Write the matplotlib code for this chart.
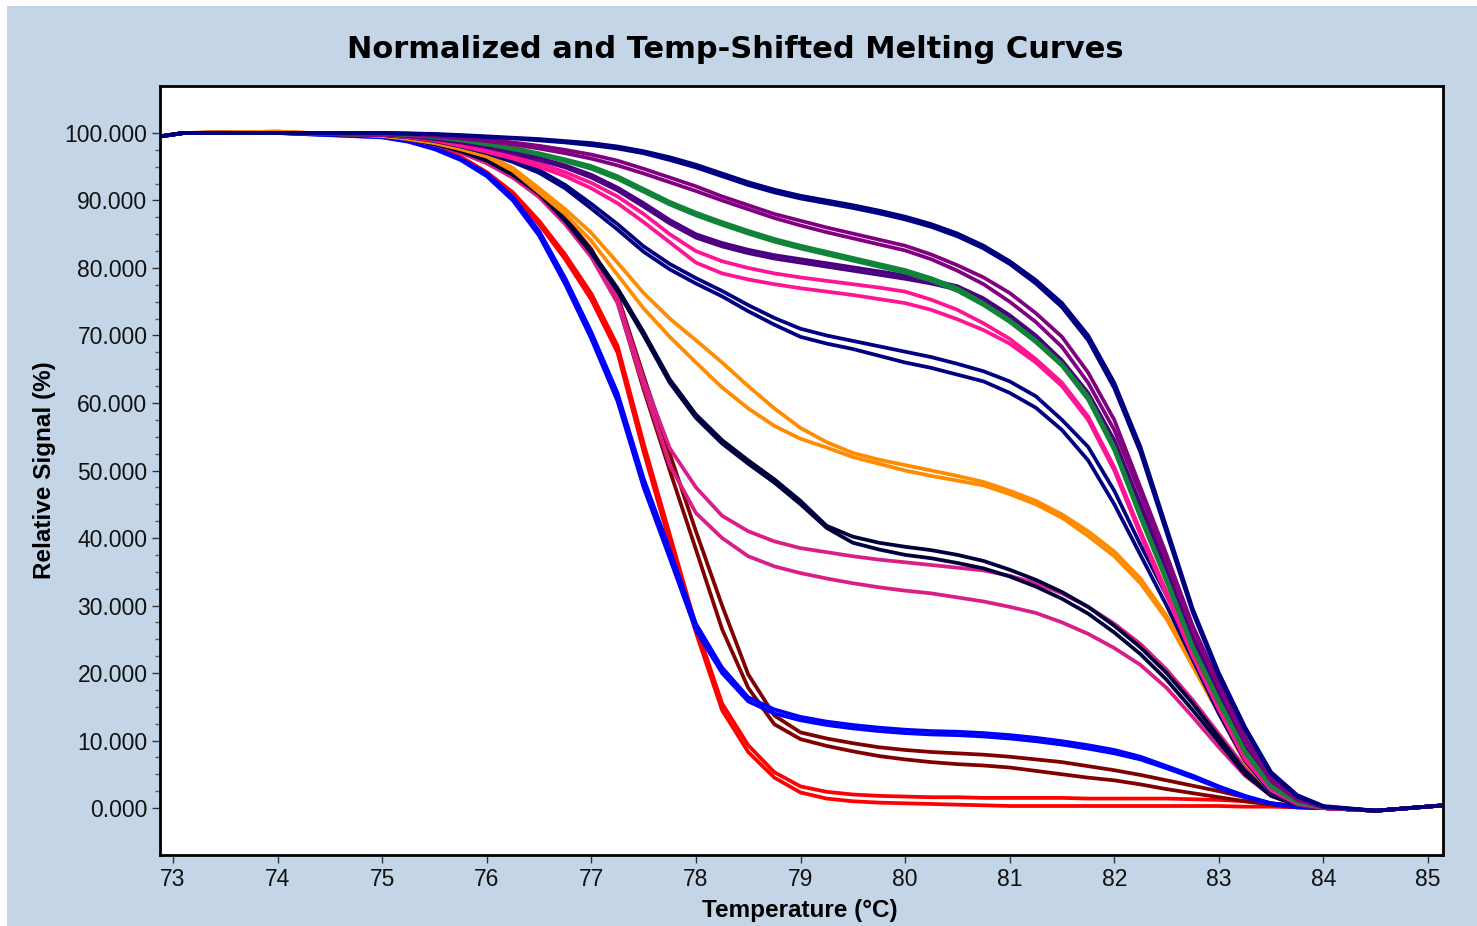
import matplotlib
matplotlib.use("Agg")
import matplotlib.pyplot as plt
from matplotlib.ticker import FixedLocator, FormatStrFormatter
from matplotlib.patches import Rectangle

# Temperature grid (deg C) shared by every melting curve
TEMPS = [72.88, 73.1, 74.0,
         75.0, 75.25, 75.5, 75.75, 76.0, 76.25, 76.5, 76.75, 77.0, 77.25,
         77.5, 77.75, 78.0, 78.25, 78.5, 78.75, 79.0, 79.25, 79.5, 79.75,
         80.0, 80.25, 80.5, 80.75, 81.0, 81.25, 81.5, 81.75, 82.0, 82.25,
         82.5, 82.75, 83.0, 83.25, 83.5, 83.75, 84.0,
         84.5, 85.15]

# Relative signal (%) for each well
red_a = [99.5, 100.0, 100.1,
         99.5, 99.0, 98.0, 96.5, 94.2, 91.2, 87.0, 82.0, 76.2, 68.5, 54.0, 40.5, 27.0, 15.5, 9.3, 5.3, 3.2, 2.4,
         2.0, 1.8, 1.7, 1.6, 1.6, 1.5, 1.5, 1.5, 1.5, 1.4, 1.4, 1.4, 1.4, 1.3, 1.2, 1.0, 0.7, 0.3, 0.0,
         -0.4, 0.4]
red_b = [99.5, 100.0, 100.2,
         99.5, 98.9, 97.9, 96.3, 94.0, 90.8, 86.5, 81.3, 75.3, 67.5, 52.8, 39.3, 26.0, 14.5, 8.3, 4.5, 2.3, 1.4,
         1.0, 0.8, 0.7, 0.6, 0.5, 0.4, 0.3, 0.3, 0.3, 0.3, 0.3, 0.3, 0.3, 0.3, 0.3, 0.2, 0.2, 0.1, 0.0,
         -0.4, 0.4]
darkred_a = [99.5, 100.0, 100.1,
             99.6, 99.2, 98.4, 97.3, 95.8, 93.7, 91.0, 87.5, 82.8, 76.0, 64.0, 52.5, 41.0, 30.0, 19.8, 13.7, 11.2, 10.3,
             9.6, 9.0, 8.6, 8.3, 8.1, 7.9, 7.6, 7.2, 6.8, 6.2, 5.6, 4.9, 4.1, 3.3, 2.5, 1.6, 0.7, 0.2, 0.0,
             -0.4, 0.4]
darkred_b = [99.5, 100.0, 100.1,
             99.6, 99.15, 98.3, 97.2, 95.6, 93.4, 90.6, 87.0, 82.2, 75.0, 62.0, 50.0, 38.3, 26.5, 17.8, 12.4, 10.2, 9.2,
             8.4, 7.7, 7.2, 6.8, 6.5, 6.3, 6.0, 5.5, 5.0, 4.5, 4.1, 3.5, 2.8, 2.2, 1.6, 1.0, 0.5, 0.1, 0.0,
             -0.4, 0.4]
blue_a = [99.5, 100.0, 100.0,
          99.4, 98.8, 97.8, 96.2, 94.0, 90.5, 85.5, 78.5, 70.5, 61.5, 48.8, 38.2, 27.3, 20.8, 16.4, 14.6, 13.5, 12.8,
          12.3, 11.9, 11.6, 11.4, 11.3, 11.1, 10.8, 10.4, 9.9, 9.3, 8.6, 7.6, 6.2, 4.8, 3.2, 1.8, 0.7, 0.2, 0.0,
          -0.4, 0.4]
blue_b = [99.5, 100.0, 100.0,
          99.35, 98.7, 97.6, 96.0, 93.6, 90.0, 84.8, 77.6, 69.5, 60.3, 47.5, 37.0, 26.3, 20.0, 15.8, 14.0, 13.0, 12.3,
          11.8, 11.4, 11.1, 10.9, 10.8, 10.6, 10.3, 9.9, 9.4, 8.8, 8.1, 7.2, 5.9, 4.5, 3.0, 1.6, 0.6, 0.1, 0.0,
          -0.4, 0.4]
magenta_a = [99.5, 100.0, 100.1,
             99.6, 99.1, 98.3, 97.1, 95.6, 93.5, 90.7, 86.8, 82.0, 75.5, 63.5, 53.3, 47.5, 43.3, 41.0, 39.5, 38.5, 37.9,
             37.3, 36.8, 36.4, 36.0, 35.6, 35.2, 34.4, 33.3, 31.8, 29.8, 27.3, 24.3, 20.5, 16.0, 11.0, 6.0, 2.3, 0.6, 0.0,
             -0.4, 0.4]
magenta_b = [99.5, 100.0, 100.1,
             99.6, 99.1, 98.3, 97.1, 95.5, 93.4, 90.5, 86.5, 81.6, 74.8, 62.5, 50.8, 43.7, 40.0, 37.3, 35.8, 34.8, 34.0,
             33.3, 32.7, 32.2, 31.8, 31.2, 30.6, 29.8, 28.9, 27.5, 25.8, 23.7, 21.2, 17.8, 13.5, 9.0, 4.8, 1.8, 0.4, 0.0,
             -0.4, 0.4]
black_a = [99.5, 100.0, 100.1,
           99.6, 99.1, 98.4, 97.4, 96.0, 94.0, 91.2, 87.3, 82.5, 77.0, 70.5, 63.5, 58.3, 54.5, 51.5, 48.7, 45.5, 41.8,
           40.2, 39.3, 38.7, 38.2, 37.5, 36.6, 35.3, 33.8, 32.0, 29.8, 27.0, 23.8, 20.0, 15.5, 10.5, 5.5, 2.0, 0.5, 0.0,
           -0.4, 0.4]
black_b = [99.5, 100.0, 100.1,
           99.6, 99.1, 98.35, 97.3, 95.9, 93.8, 91.0, 87.0, 82.2, 76.6, 70.0, 63.0, 57.8, 54.0, 51.0, 48.2, 45.0, 41.5,
           39.3, 38.3, 37.5, 37.0, 36.3, 35.5, 34.3, 32.8, 31.0, 28.8, 26.0, 22.8, 19.0, 14.5, 9.8, 5.0, 1.8, 0.4, 0.0,
           -0.4, 0.4]
orange_a = [99.5, 100.0, 100.2,
            99.6, 99.2, 98.6, 97.8, 96.8, 94.8, 91.8, 88.7, 85.2, 80.8, 76.3, 72.5, 69.3, 66.0, 62.5, 59.2, 56.3, 54.2,
            52.6, 51.6, 50.8, 50.0, 49.2, 48.3, 47.0, 45.5, 43.5, 41.0, 38.0, 34.0, 28.5, 21.5, 14.5, 7.0, 2.5, 0.6, 0.0,
            -0.4, 0.4]
orange_b = [99.5, 100.0, 100.2,
            99.55, 99.1, 98.5, 97.6, 96.5, 94.4, 91.2, 88.0, 84.0, 79.0, 74.0, 69.8, 66.0, 62.3, 59.2, 56.6, 54.7, 53.4,
            52.0, 51.0, 50.0, 49.2, 48.5, 47.8, 46.5, 45.0, 43.0, 40.3, 37.3, 33.3, 28.0, 21.0, 14.0, 6.7, 2.3, 0.5, 0.0,
            -0.4, 0.4]
navy2_a = [99.5, 100.0, 100.0,
           99.7, 99.4, 98.9, 98.1, 97.2, 96.0, 94.5, 92.3, 89.5, 86.5, 83.2, 80.6, 78.5, 76.6, 74.5, 72.6, 71.0, 70.0,
           69.2, 68.4, 67.6, 66.8, 65.8, 64.7, 63.2, 61.0, 57.5, 53.5, 47.0, 39.0, 31.5, 23.5, 15.0, 7.5, 2.5, 0.6, 0.0,
           -0.4, 0.4]
navy2_b = [99.5, 100.0, 100.0,
           99.7, 99.35, 98.8, 98.0, 97.0, 95.7, 94.1, 91.8, 88.8, 85.7, 82.4, 79.8, 77.7, 75.8, 73.6, 71.6, 69.8, 68.8,
           68.0, 67.0, 66.0, 65.2, 64.2, 63.2, 61.5, 59.3, 56.0, 51.5, 45.0, 37.5, 30.0, 22.0, 14.0, 7.0, 2.3, 0.5, 0.0,
           -0.4, 0.4]
pink_a = [99.5, 100.0, 100.0,
          99.8, 99.5, 99.0, 98.3, 97.5, 96.6, 95.5, 94.2, 92.6, 90.6, 88.0, 85.0, 82.5, 81.0, 80.0, 79.2, 78.6, 78.1,
          77.6, 77.1, 76.5, 75.3, 73.8, 71.8, 69.5, 66.5, 63.0, 58.0, 50.5, 41.0, 32.0, 23.0, 15.0, 7.5, 2.8, 0.7, 0.0,
          -0.4, 0.4]
pink_b = [99.5, 100.0, 100.0,
          99.75, 99.4, 98.9, 98.1, 97.2, 96.2, 95.0, 93.6, 91.8, 89.6, 86.8, 83.8, 80.8, 79.2, 78.3, 77.6, 77.0, 76.5,
          76.0, 75.4, 74.8, 73.8, 72.4, 70.8, 68.8, 66.0, 62.5, 57.5, 50.0, 40.5, 31.5, 22.5, 14.6, 7.2, 2.6, 0.6, 0.0,
          -0.4, 0.4]
indigo_a = [99.5, 100.0, 100.0,
            99.85, 99.6, 99.2, 98.7, 98.0, 97.2, 96.3, 95.2, 93.8, 91.9, 89.6, 87.1, 85.0, 83.7, 82.7, 81.9, 81.3, 80.7,
            80.1, 79.5, 78.9, 78.2, 77.3, 75.5, 73.0, 70.0, 66.3, 61.5, 54.5, 45.0, 35.5, 25.5, 17.0, 9.0, 3.5, 1.0, 0.1,
            -0.4, 0.4]
indigo_b = [99.5, 100.0, 100.0,
            99.8, 99.55, 99.1, 98.6, 97.9, 97.0, 96.0, 94.9, 93.4, 91.5, 89.1, 86.6, 84.5, 83.2, 82.2, 81.4, 80.8, 80.2,
            79.6, 79.0, 78.4, 77.7, 76.8, 75.0, 72.5, 69.5, 65.8, 61.0, 54.0, 44.5, 35.0, 25.0, 16.6, 8.7, 3.3, 0.9, 0.1,
            -0.4, 0.4]
green_a = [99.5, 100.0, 100.0,
           99.9, 99.75, 99.4, 99.0, 98.4, 97.8, 97.0, 96.1, 95.1, 93.6, 91.7, 89.8, 88.2, 86.8, 85.5, 84.3, 83.3, 82.4,
           81.5, 80.6, 79.7, 78.5, 77.0, 74.8, 72.3, 69.3, 65.8, 61.0, 53.5, 43.5, 34.0, 24.0, 16.0, 8.5, 3.3, 0.9, 0.1,
           -0.4, 0.4]
green_b = [99.5, 100.0, 100.0,
           99.9, 99.7, 99.35, 98.9, 98.3, 97.6, 96.8, 95.8, 94.7, 93.2, 91.3, 89.4, 87.8, 86.4, 85.1, 83.9, 82.9, 82.0,
           81.1, 80.2, 79.3, 78.1, 76.6, 74.5, 72.0, 69.0, 65.5, 60.5, 53.0, 43.0, 33.5, 23.6, 15.6, 8.2, 3.1, 0.8, 0.1,
           -0.4, 0.4]
purple_a = [99.5, 100.0, 100.0,
            99.95, 99.85, 99.6, 99.3, 99.0, 98.6, 98.1, 97.5, 96.8, 95.9, 94.7, 93.4, 92.1, 90.6, 89.3, 88.0, 87.0, 86.0,
            85.1, 84.2, 83.3, 82.0, 80.4, 78.6, 76.3, 73.3, 69.8, 64.5, 57.5, 47.5, 37.5, 27.0, 18.5, 10.5, 4.3, 1.3, 0.2,
            -0.4, 0.4]
purple_b = [99.5, 100.0, 100.0,
            99.9, 99.8, 99.5, 99.2, 98.8, 98.3, 97.7, 97.0, 96.2, 95.2, 94.0, 92.7, 91.4, 90.0, 88.7, 87.4, 86.3, 85.3,
            84.4, 83.5, 82.6, 81.3, 79.6, 77.6, 75.0, 72.0, 68.3, 63.0, 56.0, 46.5, 36.5, 26.3, 18.0, 10.0, 4.0, 1.2, 0.1,
            -0.4, 0.4]
navy_a = [99.5, 100.0, 100.0,
          100.0, 99.95, 99.85, 99.7, 99.5, 99.3, 99.1, 98.8, 98.5, 98.0, 97.3, 96.4, 95.3, 94.0, 92.7, 91.6, 90.7, 90.0,
          89.3, 88.5, 87.6, 86.5, 85.1, 83.3, 81.0, 78.2, 74.8, 70.0, 63.0, 53.5, 41.5, 29.5, 20.0, 12.0, 5.3, 1.9, 0.3,
          -0.4, 0.4]
navy_b = [99.5, 100.0, 100.0,
          100.0, 99.9, 99.8, 99.6, 99.4, 99.2, 98.9, 98.6, 98.2, 97.7, 97.0, 96.0, 94.9, 93.6, 92.3, 91.2, 90.3, 89.6,
          88.9, 88.1, 87.2, 86.1, 84.7, 82.9, 80.6, 77.7, 74.2, 69.3, 62.2, 52.7, 40.8, 29.0, 19.5, 11.6, 5.0, 1.7, 0.2,
          -0.4, 0.4]

# Drawing order (first drawn ends up underneath) and line colours
SERIES = [
    (red_a, "#ff0000"), (red_b, "#ff0000"),
    (darkred_a, "#800000"), (darkred_b, "#800000"),
    (blue_a, "#0000ff"), (blue_b, "#0000ff"),
    (magenta_a, "#d91e87"), (magenta_b, "#d91e87"),
    (black_a, "#00003c"), (black_b, "#00003c"),
    (orange_a, "#ff8c00"), (orange_b, "#ff8c00"),
    (navy2_a, "#000080"), (navy2_b, "#000080"),
    (pink_a, "#ff1493"), (pink_b, "#ff1493"),
    (indigo_a, "#4b0082"), (indigo_b, "#4b0082"),
    (green_a, "#12843a"), (green_b, "#12843a"),
    (purple_a, "#800080"), (purple_b, "#800080"),
    (navy_a, "#000080"), (navy_b, "#000080"),
]

X_TICKS = list(range(73, 86))
Y_TICKS = list(range(0, 101, 10))

BG = "#c3d5e6"
W, H = 1477, 926

fig = plt.figure(figsize=(W / 100, H / 100), dpi=100, facecolor=BG)
ax = fig.add_axes([160 / W, 1 - 855 / H, (1443 - 160) / W, (855 - 86) / H])
ax.set_facecolor("white")

for vals, col in SERIES:
    ax.plot(TEMPS, vals, color=col, lw=2.7, solid_joinstyle="round", solid_capstyle="round")

ax.set_xlim(72.876, 85.143)
ax.set_ylim(-6.96, 106.96)

ax.xaxis.set_major_locator(FixedLocator(X_TICKS))
ax.yaxis.set_major_locator(FixedLocator(Y_TICKS))
ax.yaxis.set_minor_locator(FixedLocator([v + d for v in Y_TICKS[:-1] for d in (2.5, 5.0, 7.5)]))
ax.yaxis.set_major_formatter(FormatStrFormatter("%.3f"))

for sp in ax.spines.values():
    sp.set_linewidth(2.0)
    sp.set_color("black")

ax.tick_params(axis="both", which="major", direction="out", length=6, width=1.0,
               color="#333333", labelcolor="#111111", pad=3)
ax.tick_params(axis="y", which="minor", direction="out", length=3.5, width=1.0, color="#555555")
for lab in ax.get_xticklabels() + ax.get_yticklabels():
    lab.set_fontfamily("Liberation Sans")
    lab.set_fontsize(16.5)

fig.text(735 / W, 1 - 50 / H, "Normalized and Temp-Shifted Melting Curves",
         ha="center", va="center", fontsize=22, fontweight="bold",
         family="DejaVu Sans", color="black")
fig.text(800 / W, 1 - 910 / H, "Temperature (°C)", ha="center", va="center",
         fontsize=17.5, fontweight="bold", family="Liberation Sans", color="black")
fig.text(45 / W, 1 - 470 / H, "Relative Signal (%)", ha="center", va="center",
         rotation=90, fontsize=17.5, fontweight="bold", family="Liberation Sans", color="black")

# thin white margin along the top and left edges
fig.patches.append(Rectangle((0, 1 - 6 / H), 1, 6 / H, transform=fig.transFigure,
                             facecolor="white", edgecolor="none", zorder=-1))
fig.patches.append(Rectangle((0, 0), 7 / W, 1, transform=fig.transFigure,
                             facecolor="white", edgecolor="none", zorder=-1))

fig.savefig("out.png", dpi=100, facecolor=BG)
